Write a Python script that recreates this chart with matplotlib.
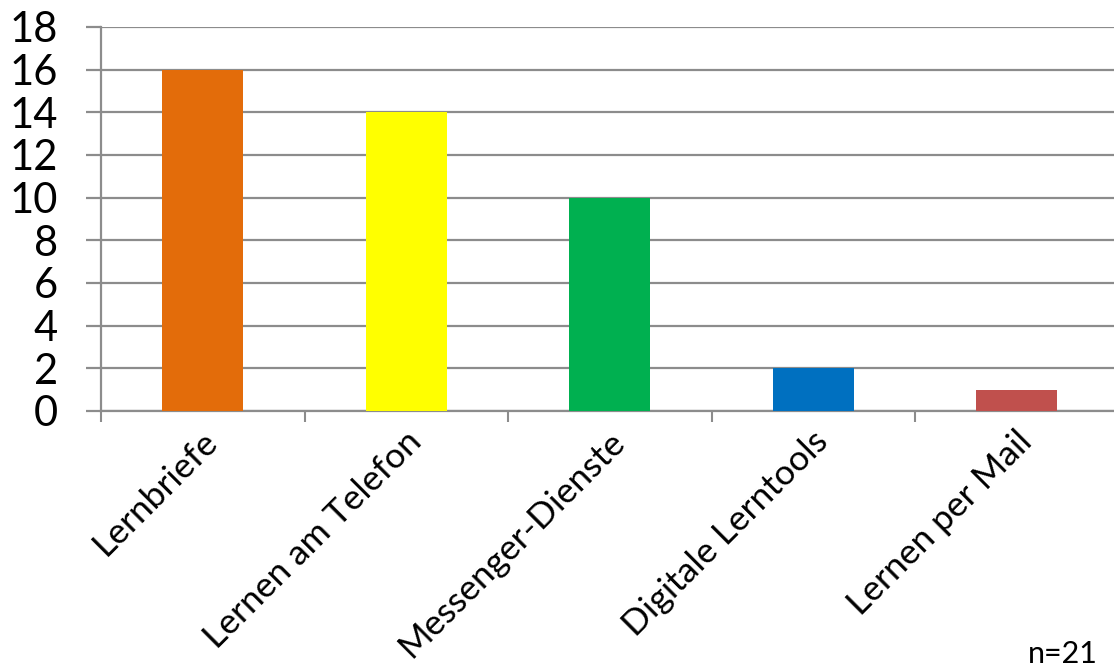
import matplotlib
matplotlib.use("Agg")
import matplotlib.pyplot as plt
import matplotlib.patheffects as pe
from matplotlib.transforms import ScaledTranslation

categories = ["Lernbriefe", "Lernen am Telefon", "Messenger-Dienste", "Digitale Lerntools", "Lernen per Mail"]
values = [16, 14, 10, 2, 1]
colors = ["#E36C0A", "#FFFF00", "#00B050", "#0070C0", "#C0504D"]
yticks = [0, 2, 4, 6, 8, 10, 12, 14, 16, 18]
note = "n=21"

plt.rcParams['font.family'] = ['Lato', 'DejaVu Sans']

fig = plt.figure(figsize=(11.14, 6.70), dpi=100)
W, H = 1114, 670
x0, x1 = 101, 1118.5
y0, y1 = 411, 27
ax = fig.add_axes([x0 / W, 1 - y0 / H, (x1 - x0) / W, (y0 - y1) / H])

xs = list(range(len(categories)))
bars = ax.bar(xs, values, width=0.40, color=colors, zorder=3)
bars[-1].set_path_effects([pe.SimplePatchShadow(offset=(0, -1.5), shadow_rgbFace='black', alpha=0.6), pe.Normal()])

ax.set_xlim(-0.5, len(categories) - 0.5)
ax.set_ylim(0, 18)
ax.set_yticks(yticks)
ax.set_yticklabels([str(t) for t in yticks], fontsize=30)
ax.yaxis.grid(True, color="#8C8C8C", linewidth=1.6, zorder=0)
ax.set_axisbelow(True)

ax.set_xticks([i - 0.5 for i in xs])
ax.set_xticklabels([])
ax.tick_params(axis='x', direction='out', length=8, width=1.5, color="#8C8C8C")
ax.tick_params(axis='y', direction='out', length=11, width=1.6, color="#8C8C8C", pad=20)

for s in ['top', 'right']:
    ax.spines[s].set_visible(False)
for s in ['left', 'bottom']:
    ax.spines[s].set_color("#8C8C8C")
    ax.spines[s].set_linewidth(1.6)

off = ScaledTranslation(-1 / 72, -10 / 72, fig.dpi_scale_trans)
for i, c in zip(xs, categories):
    ax.text(i, 0, c, rotation=45, ha='right', va='top', rotation_mode='anchor',
            fontsize=25.5, transform=ax.get_xaxis_transform() + off)

fig.text(1098 / W, 1 - 668 / H, note, ha='right', va='bottom', fontsize=22)

fig.savefig("out.png", dpi=100)
